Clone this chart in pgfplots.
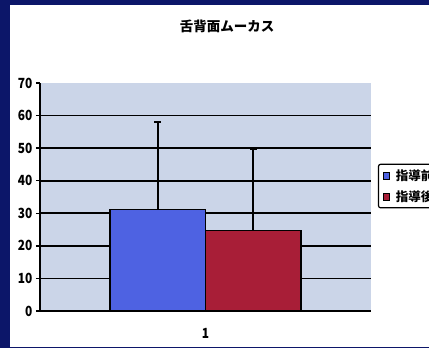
\documentclass[border=0pt]{standalone}
\usepackage{fontspec}
\setmainfont{Noto Sans CJK JP}[BoldFont={Noto Sans CJK JP Black}]
\newfontfamily\numfont{Noto Sans CJK JP Black}[FakeStretch=0.85]
\usepackage{pgfplots}
\pgfplotsset{compat=1.18}
\definecolor{navy}{RGB}{12,22,105}
\definecolor{plotbg}{RGB}{203,213,232}
\definecolor{barblue}{RGB}{78,98,226}
\definecolor{barred}{RGB}{168,30,55}
\begin{document}
\begin{tikzpicture}[x=1pt,y=1pt]
\clip (0,0) rectangle (429,348);
\fill[navy] (0,0) rectangle (429,348);
\fill[white] (10,1) rectangle (440,343);
\node[font=\bfseries\fontsize{13.5}{14}\selectfont] at (227,322) {舌背面ムーカス};
\begin{axis}[
  at={(40pt,37pt)}, anchor=south west,
  scale only axis, width=331pt, height=228pt,
  ybar=0pt, bar width=95.5pt,
  xmin=0.5, xmax=1.5, ymin=0, ymax=70,
  axis x line*=bottom, axis y line*=left,
  axis line style={black, line width=1.8pt},
  axis background/.style={fill=plotbg},
  ytick={0,10,...,70},
  xtick={1}, xticklabels={1},
  x tick style={draw=none},
  extra x ticks={0.5,1.5}, extra x tick labels={},
  extra x tick style={major tick length=4pt, tick style={draw=black, line width=1.5pt}},
  extra y ticks={10,20,30,40,50,60}, extra y tick labels={},
  extra y tick style={grid=major, major grid style={black, line width=1.8pt}, major tick length=0pt},
  tick align=outside, major tick length=4pt,
  y tick style={black, line width=1.5pt},
  /pgf/number format/assume math mode=true,
  tick label style={font=\numfont\fontsize{14}{14}\selectfont},
  yticklabel style={xshift=0pt},
  xticklabel style={yshift=-10pt},
  legend style={at={(1.021,0.548)}, anchor=west, draw=black, line width=1.2pt,
    rounded corners=2pt, font=\bfseries\fontsize{12.5}{13}\selectfont,
    inner sep=4pt, row sep=7pt, fill=white, legend cell align=left,
    nodes={inner sep=1pt}},
  legend image code/.code={\draw[#1, sharp corners, line width=0.8pt, draw=black] (-2pt,-3.5pt) rectangle (4pt,3.5pt); \path[draw=none,fill=none] (-2pt,0) -- (10pt,0);},
  clip=false,
]
\addplot[fill=barblue, draw=black, line width=1.3pt,
  error bars/.cd, y dir=plus, y explicit,
  error bar style={black, line width=1.8pt},
  error mark options={black, mark size=3.5pt, line width=1.8pt, rotate=90}]
  coordinates {(1,31.2) +- (0,26.9)};
\addplot[fill=barred, draw=black, line width=1.3pt,
  error bars/.cd, y dir=plus, y explicit,
  error bar style={black, line width=1.8pt},
  error mark options={black, mark size=3.5pt, line width=1.8pt, rotate=90}]
  coordinates {(1,24.8) +- (0,25.0)};
\legend{指導前,指導後}
\end{axis}
\end{tikzpicture}
\end{document}
